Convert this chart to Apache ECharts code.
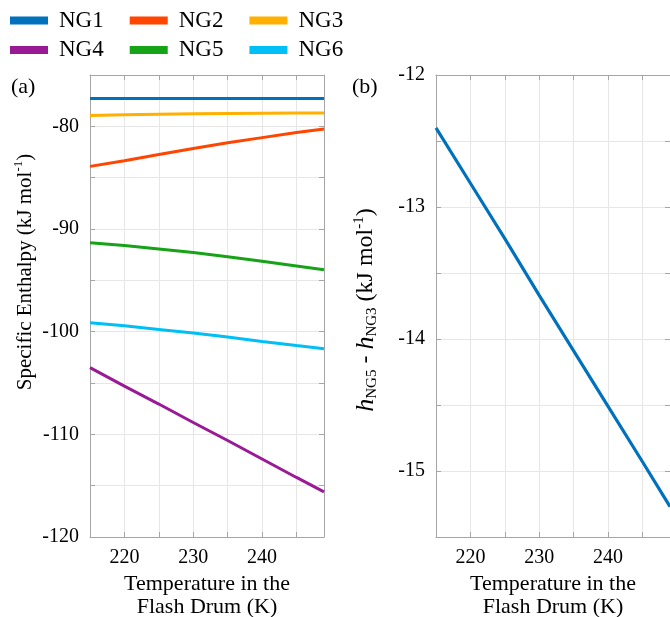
<!DOCTYPE html>
<html><head><meta charset="utf-8">
<script src="https://cdn.jsdelivr.net/npm/echarts@6/dist/echarts.min.js"></script>
<style>html,body{margin:0;padding:0;background:#fff}#c{width:670px;height:617px}</style>
</head><body><div id="c"></div>
<script>
// Temperature in the flash drum (K)
const temps = [215, 220, 225, 230, 235, 240, 245, 249];
const seriesNames = ['NG1', 'NG2', 'NG3', 'NG4', 'NG5', 'NG6'];
// Specific enthalpy (kJ/mol) — panel (a)
const ng1 = [-77.3, -77.3, -77.3, -77.3, -77.3, -77.3, -77.3, -77.3];
const ng2 = [-83.9, -83.35, -82.75, -82.15, -81.6, -81.1, -80.6, -80.25];
const ng3 = [-78.95, -78.88, -78.82, -78.77, -78.74, -78.72, -78.71, -78.7];
const ng4 = [-103.5, -105.3, -107.05, -108.85, -110.6, -112.4, -114.2, -115.6];
const ng5 = [-91.34, -91.6, -91.95, -92.3, -92.7, -93.15, -93.6, -93.97];
const ng6 = [-99.13, -99.43, -99.78, -100.14, -100.53, -100.95, -101.35, -101.66];
// h_NG5 - h_NG3 (kJ/mol) — panel (b)
const diff53 = [-12.4, -12.82, -13.24, -13.67, -14.09, -14.51, -14.93, -15.27];
const colors = ['#0072BD', '#FF4500', '#FFB000', '#9A1A96', '#17A317', '#00BFF5'];

const FONT = "'Liberation Serif','Times New Roman',serif";
const AX = '#a6a6a6', GRID = '#e6e6e6';
const pair = arr => temps.map((t, i) => [t, arr[i]]);

function xAx(g, pos, name) {
  const bottom = pos === 'bottom';
  return {
    type: 'value', gridIndex: g, position: pos, min: 215, max: 249, interval: 5,
    axisLine: { show: true, lineStyle: { color: AX, width: 1 } },
    axisTick: { show: true, inside: true, length: 5, lineStyle: { color: AX } },
    axisLabel: { show: bottom, margin: 11, color: '#000', fontSize: 20, fontFamily: FONT,
      formatter: v => (v % 10 === 0 ? String(v) : '') },
    splitLine: { show: bottom, lineStyle: { color: GRID, width: 1 } },
    name: bottom ? name : '', nameLocation: 'middle', nameGap: 35,
    nameTextStyle: { color: '#000', fontSize: 22, lineHeight: 23, fontFamily: FONT }
  };
}
function yAx(g, pos, min, max, interval, fmt, name, gap, nts, showLine) {
  const left = pos === 'left';
  return {
    type: 'value', gridIndex: g, position: pos, min: min, max: max, interval: interval,
    axisLine: { show: showLine, lineStyle: { color: AX, width: 1 } },
    axisTick: { show: true, inside: true, length: 5, lineStyle: { color: AX } },
    axisLabel: { show: left, margin: 11, color: '#000', fontSize: 20, fontFamily: FONT, formatter: fmt },
    splitLine: { show: left, lineStyle: { color: GRID, width: 1 } },
    name: left ? name : '', nameLocation: 'middle', nameGap: gap, nameRotate: 90,
    nameTextStyle: nts
  };
}
const ntsA = {
  color: '#000', fontSize: 21, lineHeight: 26, fontFamily: FONT, padding: [0, 0, 0, 68],
  rich: { sup: { fontSize: 13, lineHeight: 13, verticalAlign: 'top', fontFamily: FONT, color: '#000' } }
};
const ntsB = {
  color: '#000', fontSize: 24, lineHeight: 28, fontFamily: FONT, padding: [0, 8, 0, 0],
  rich: {
    sup: { fontSize: 15, lineHeight: 15, verticalAlign: 'top', fontFamily: FONT, color: '#000' },
    sub: { fontSize: 15, lineHeight: 15, verticalAlign: 'bottom', fontFamily: FONT, color: '#000' },
    i: { fontSize: 26, lineHeight: 28, fontStyle: 'italic', fontFamily: FONT, color: '#000' }
  }
};
const xName = 'Temperature in the\nFlash Drum (K)';
const intFmt10 = v => (v % 10 === 0 ? String(v) : '');
const intFmt1 = v => (Number.isInteger(v) ? String(v) : '');

const dataA = [ng1, ng2, ng3, ng4, ng5, ng6];
const series = seriesNames.map((n, i) => ({
  name: n, type: 'line', xAxisIndex: 0, yAxisIndex: 0, data: pair(dataA[i]),
  showSymbol: false, symbol: 'none', smooth: false, color: colors[i],
  lineStyle: { width: 3, color: colors[i] }, itemStyle: { color: colors[i] }
}));
series.push({
  name: 'diff', type: 'line', xAxisIndex: 2, yAxisIndex: 2, data: pair(diff53),
  showSymbol: false, symbol: 'none', color: '#0072BD',
  lineStyle: { width: 3.2, color: '#0072BD' }
});

const legendBase = {
  left: 10, padding: 0, orient: 'horizontal', icon: 'rect', itemWidth: 38, itemHeight: 8, itemGap: 26,
  textStyle: { color: '#000', fontSize: 23, fontFamily: FONT, padding: [0, 0, 0, 6] },
  selectedMode: false
};

const chart = echarts.init(document.getElementById('c'), null, { renderer: 'canvas' });
chart.setOption({
  animation: false,
  backgroundColor: '#fff',
  legend: [
    Object.assign({}, legendBase, { top: 9, data: seriesNames.slice(0, 3) }),
    Object.assign({}, legendBase, { top: 38.5, data: seriesNames.slice(3) })
  ],
  grid: [
    { left: 90, top: 75, width: 234, height: 462, outerBoundsMode: 'none', containLabel: false },
    { left: 436, top: 75, width: 234, height: 462, outerBoundsMode: 'none', containLabel: false }
  ],
  xAxis: [xAx(0, 'bottom', xName), xAx(0, 'top', ''), xAx(1, 'bottom', xName), xAx(1, 'top', '')],
  yAxis: [
    yAx(0, 'left', -120, -75, 5, intFmt10, 'Specific Enthalpy (kJ mol{sup|-1})', 52, ntsA, true),
    yAx(0, 'right', -120, -75, 5, intFmt10, '', 0, ntsA, true),
    yAx(1, 'left', -15.5, -12, 0.5, intFmt1, '{i|h}{sub|NG5} - {i|h}{sub|NG3} (kJ mol{sup|-1})', 56, ntsB, true),
    yAx(1, 'right', -15.5, -12, 0.5, intFmt1, '', 0, ntsB, false)
  ],
  graphic: [
    { type: 'text', left: 11, top: 76, style: { text: '(a)', font: '22px ' + FONT, fill: '#000' } },
    { type: 'text', left: 352, top: 76, style: { text: '(b)', font: '22px ' + FONT, fill: '#000' } }
  ],
  series: series
});
</script></body></html>
